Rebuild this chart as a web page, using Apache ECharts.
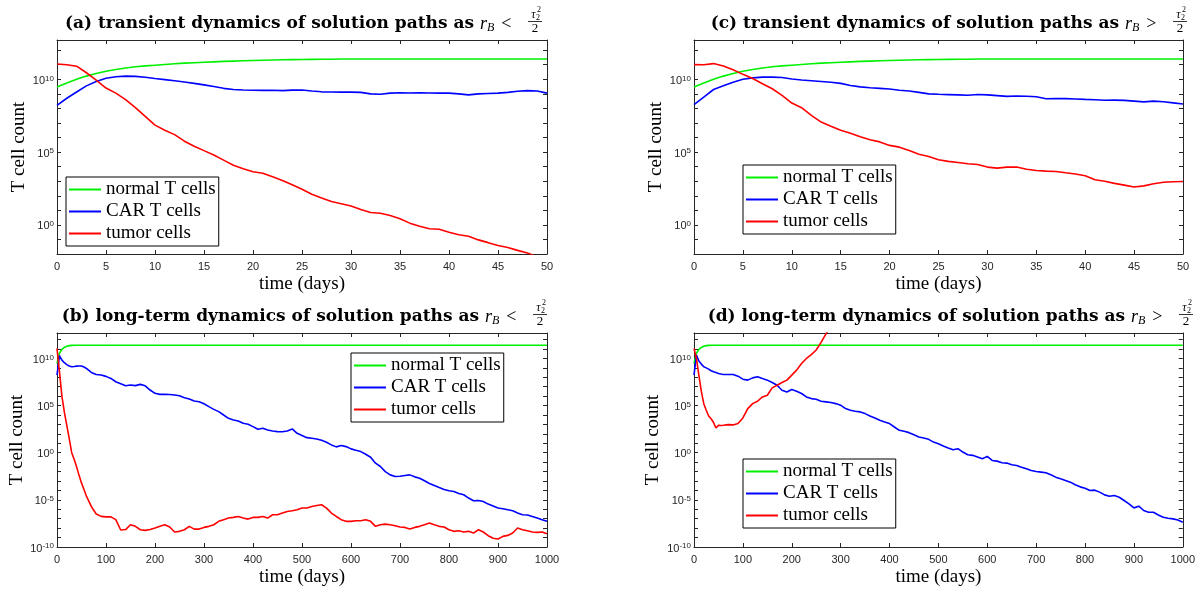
<!DOCTYPE html>
<html>
<head>
<meta charset="utf-8">
<title>CAR T-cell solution paths</title>
<script src="https://cdn.jsdelivr.net/npm/echarts@6/dist/echarts.min.js"></script>
<style>
  html, body { margin: 0; padding: 0; background: #fff; }
  #chart { width: 1198px; height: 592px; }
</style>
</head>
<body>
<div id="chart"></div>
<script>
// All cell counts are stored as log10 values; the y axes are in decades.

// ---- short horizon (days 0..50, panels a and c) ----
const daysShort = [0,1,2,3,4,5,6,7,8,9,10,11,12,13,14,15,16,17,18,19,20,21,22,23,24,25,
  26,27,28,29,30,31,32,33,34,35,36,37,38,39,40,41,42,43,44,45,46,47,48,49,50];

const normalShort = [9.47,9.75,10.0,10.22,10.4,10.55,10.67,10.78,10.86,10.92,10.97,11.02,11.07,11.11,11.14,11.17,
  11.2,11.23,11.25,11.27,11.29,11.31,11.33,11.34,11.35,11.36,11.37,11.38,11.38,11.39,11.39,11.39,11.4,11.4,11.4,
  11.4,11.4,11.4,11.4,11.4,11.4,11.4,11.4,11.4,11.4,11.4,11.4,11.4,11.4,11.4,11.4];

const carA = [8.21,8.7,9.13,9.55,9.85,10.07,10.18,10.22,10.2,10.14,10.05,9.98,9.9,9.82,9.72,9.62,9.5,9.38,9.3,9.27,
  9.25,9.24,9.25,9.22,9.26,9.27,9.2,9.14,9.13,9.12,9.12,9.1,9.0,8.97,9.05,9.08,9.06,9.07,9.06,9.05,
  9.05,9.0,8.93,9.0,9.03,9.05,9.1,9.18,9.22,9.2,9.05];

const tumorA = [11.05,11.0,10.9,10.45,9.95,9.4,9.05,8.6,8.05,7.45,6.85,6.5,6.2,5.75,5.4,5.1,4.8,4.45,4.1,3.85,
  3.65,3.55,3.3,3.05,2.75,2.45,2.1,1.85,1.6,1.45,1.3,1.05,0.85,0.8,0.65,0.42,0.12,-0.1,-0.27,-0.3,
  -0.5,-0.68,-0.78,-1.03,-1.22,-1.42,-1.55,-1.75,-1.93,-2.2,-2.4];

const carC = [8.26,8.78,9.3,9.55,9.8,10.0,10.1,10.15,10.15,10.12,10.02,9.95,9.9,9.85,9.8,9.72,9.58,9.48,9.42,9.38,
  9.33,9.25,9.2,9.1,9.0,8.97,8.95,8.93,8.9,8.96,8.93,8.88,8.83,8.85,8.84,8.8,8.66,8.68,8.67,8.65,
  8.62,8.6,8.56,8.57,8.55,8.5,8.45,8.5,8.46,8.38,8.3];

const tumorC = [11.01,11.0,11.08,10.92,10.65,10.34,10.05,9.7,9.35,8.9,8.37,8.05,7.52,7.06,6.77,6.5,6.3,6.05,5.85,5.7,
  5.46,5.34,5.11,4.85,4.7,4.47,4.36,4.28,4.2,4.15,3.97,3.9,3.97,3.97,3.82,3.74,3.69,3.67,3.58,3.5,
  3.38,3.1,3.0,2.85,2.73,2.6,2.68,2.82,2.93,2.96,2.98];

// ---- long horizon (days 0..1000, panels b and d) ----
const daysLong = [0,5,10,15,20,25,30,35,40,45,50,55,60,
  70,80,90,100,110,120,130,140,150,160,
  170,180,190,200,210,220,230,240,250,260,
  270,280,290,300,310,320,330,340,350,360,
  370,380,390,400,410,420,430,440,450,460,
  470,480,490,500,510,520,530,540,550,560,
  570,580,590,600,610,620,630,640,650,660,
  670,680,690,700,710,720,730,740,750,760,
  770,780,790,800,810,820,830,840,850,860,
  870,880,890,900,910,920,930,940,950,960,
  970,980,990,1000];

const daysNormalLong = [0,5,10,15,20,25,30,40,60,1000];
const normalLong = [9.47,10.55,10.97,11.17,11.29,11.36,11.39,11.4,11.4,11.4];

const carB = [8.24,10.3,9.82,9.55,9.35,9.2,9.12,9.15,9.19,9.2,9.2,9.1,8.94,
  8.52,8.3,8.24,8.1,7.88,7.53,7.32,7.1,7.18,7.12,
  7.25,7.1,6.65,6.3,6.19,6.2,6.18,6.12,6.05,5.84,
  5.7,5.49,5.41,5.2,4.89,4.6,4.36,4.0,3.65,3.47,
  3.37,3.12,3.02,2.77,2.49,2.6,2.42,2.31,2.24,2.22,
  2.31,2.52,2.06,1.82,1.6,1.53,1.46,1.32,1.11,0.83,
  0.62,0.76,0.65,0.41,0.26,0.12,-0.16,-0.48,-1.11,-1.46,
  -2.0,-2.35,-2.52,-2.5,-2.42,-2.35,-2.56,-2.7,-2.98,-3.26,
  -3.47,-3.69,-3.9,-4.04,-4.11,-4.32,-4.46,-4.81,-5.1,-5.06,
  -5.17,-5.45,-5.66,-5.87,-5.94,-6.05,-6.16,-6.4,-6.58,-6.6,
  -6.76,-6.93,-7.1,-7.28];

const tumorB = [11.06,8.6,6.0,4.3,2.9,1.5,0.0,-0.7,-1.5,-2.4,-3.2,-3.9,-4.6,
  -5.7,-6.5,-6.75,-6.8,-6.8,-7.1,-8.2,-8.15,-7.64,-7.81,
  -8.17,-8.24,-8.15,-7.99,-7.81,-7.64,-7.88,-8.41,-8.34,-8.17,
  -7.81,-8.1,-8.1,-7.92,-7.81,-7.64,-7.28,-7.1,-6.93,-6.86,
  -6.76,-6.93,-7.04,-6.86,-6.86,-6.76,-6.93,-6.58,-6.58,-6.4,
  -6.23,-6.16,-6.05,-5.87,-5.87,-5.7,-5.59,-5.52,-5.87,-6.4,
  -6.76,-7.1,-7.28,-7.28,-7.21,-7.21,-7.1,-7.28,-7.81,-7.64,
  -7.57,-7.64,-7.74,-7.88,-7.92,-8.1,-7.92,-7.81,-7.64,-7.46,
  -7.64,-7.81,-7.88,-8.17,-8.34,-8.27,-8.41,-8.34,-8.52,-8.17,
  -8.41,-8.8,-9.08,-9.15,-8.87,-8.77,-8.52,-7.99,-8.17,-8.27,
  -8.41,-8.45,-8.41,-8.59];

const carD = [8.23,10.35,9.72,9.4,9.12,9.0,8.87,8.7,8.58,8.5,8.41,8.35,8.3,
  8.3,8.3,8.12,7.8,7.7,7.94,8.05,7.87,7.7,7.45,
  7.16,6.63,6.45,6.7,6.52,6.28,5.92,5.74,5.67,5.46,
  5.39,5.32,5.21,5.04,4.68,4.5,4.4,4.33,4.15,3.9,
  3.69,3.44,3.26,3.09,2.73,2.38,2.27,2.13,1.91,1.67,
  1.56,1.42,1.13,0.96,0.71,0.5,0.32,0.43,0.07,-0.21,
  -0.28,-0.46,-0.64,-0.39,-0.82,-0.89,-1.06,-1.1,-1.28,-1.35,
  -1.53,-1.7,-1.88,-1.99,-2.06,-2.13,-2.34,-2.59,-2.77,-2.94,
  -3.12,-3.4,-3.62,-3.76,-4.0,-3.97,-4.18,-4.47,-4.61,-4.54,
  -4.72,-5.07,-5.43,-5.85,-5.67,-6.13,-6.31,-6.31,-6.6,-6.84,
  -6.95,-7.02,-7.13,-7.38];

// tumour burden escapes above the plotted range after ~day 270
const tumorD = [11.06,10.0,8.2,6.5,5.2,4.5,3.9,3.6,3.2,2.62,2.9,2.88,2.91,
  2.98,2.95,3.09,3.69,4.68,5.21,5.46,5.92,6.1,6.88,
  7.16,7.45,7.7,8.23,8.76,9.47,10.0,10.4,10.9,11.7,
  12.6,13.4];

const seriesNames = ['normal T cells', 'CAR T cells', 'tumor cells'];
const seriesColors = ['#00f000', '#0000ff', '#ff0000'];

// panel layout: a (top-left), b (bottom-left), c (top-right), d (bottom-right)
const panels = [
  { grid: { left: 57, top: 40, width: 490, height: 214 }, xMax: 50, xStep: 5, yMin: -2, yNameGap: 27,
    lines: [[daysShort, normalShort], [daysShort, carA], [daysShort, tumorA]],
    legend: { left: 66, top: 177 },
    title: { prefix: '(a) transient dynamics of solution paths as', asEnd: 474, yc: 24, op: '<' } },
  { grid: { left: 57, top: 333, width: 490, height: 214 }, xMax: 1000, xStep: 100, yMin: -10, yNameGap: 30,
    lines: [[daysNormalLong, normalLong], [daysLong, carB], [daysLong, tumorB]],
    legend: { left: 351, top: 353 },
    title: { prefix: '(b) long-term dynamics of solution paths as', asEnd: 479, yc: 317, op: '<' } },
  { grid: { left: 694, top: 40, width: 489, height: 214 }, xMax: 50, xStep: 5, yMin: -2, yNameGap: 28,
    lines: [[daysShort, normalShort], [daysShort, carC], [daysShort, tumorC]],
    legend: { left: 743, top: 165 },
    title: { prefix: '(c) transient dynamics of solution paths as', asEnd: 1119, yc: 24, op: '>' } },
  { grid: { left: 694, top: 333, width: 489, height: 214 }, xMax: 1000, xStep: 100, yMin: -10, yNameGap: 31,
    lines: [[daysNormalLong, normalLong], [daysLong, carD], [daysLong, tumorD]],
    legend: { left: 743, top: 459 },
    title: { prefix: '(d) long-term dynamics of solution paths as', asEnd: 1125, yc: 317, op: '>' } }
];

const Y_MAX = 12.7;   // top of every y axis, in decades
const axisColor = '#262626';
const serif = 'Liberation Serif';
const sans = 'Liberation Sans';

function decadeLabel(v) {
  const n = Math.round(v);
  if (Math.abs(v - n) > 1e-6 || n % 5 !== 0) return '';
  return '{b|10}{s|' + (n < 0 ? '-' + (-n) : n) + '}';
}

const grid = [], xAxis = [], yAxis = [], series = [], legend = [], graphic = [];

panels.forEach(function (p, i) {
  grid.push(Object.assign({ containLabel: false }, p.grid));

  const xCommon = {
    type: 'value', gridIndex: i, min: 0, max: p.xMax, interval: p.xStep,
    axisLine: { show: true, onZero: false, lineStyle: { color: axisColor, width: 1 } },
    axisTick: { show: true, inside: true, length: 4, lineStyle: { color: axisColor } },
    splitLine: { show: false }
  };
  xAxis.push(Object.assign({}, xCommon, {
    position: 'bottom',
    axisLabel: { color: axisColor, fontFamily: sans, fontSize: 11, margin: 7,
      formatter: function (v) { return String(v); } },
    name: 'time (days)', nameLocation: 'middle', nameGap: 21,
    nameTextStyle: { fontFamily: serif, fontSize: 19, color: '#000' }
  }));
  xAxis.push(Object.assign({}, xCommon, { position: 'top', axisLabel: { show: false } }));

  const yCommon = {
    type: 'value', gridIndex: i, min: p.yMin, max: Y_MAX, interval: 1,
    axisLine: { show: true, onZero: false, lineStyle: { color: axisColor, width: 1 } },
    axisTick: { show: true, inside: true, length: 4, lineStyle: { color: axisColor } },
    splitLine: { show: false }
  };
  yAxis.push(Object.assign({}, yCommon, {
    position: 'left',
    axisLabel: {
      formatter: decadeLabel, margin: 3, color: axisColor,
      rich: {
        b: { fontFamily: sans, fontSize: 11, color: axisColor, padding: [3, 0, 0, 0] },
        s: { fontFamily: sans, fontSize: 8, color: axisColor, padding: [0, 0, 2, 0] }
      }
    },
    name: 'T cell count', nameLocation: 'middle', nameGap: p.yNameGap,
    nameTextStyle: { fontFamily: serif, fontSize: 19, color: '#000' }
  }));
  yAxis.push(Object.assign({}, yCommon, { position: 'right', axisLabel: { show: false } }));

  p.lines.forEach(function (pair, k) {
    const days = pair[0], vals = pair[1];
    series.push({
      name: seriesNames[k], type: 'line', xAxisIndex: 2 * i, yAxisIndex: 2 * i,
      data: vals.map(function (v, j) { return [days[j], v]; }),
      symbol: 'none', showSymbol: false, clip: true,
      lineStyle: { color: seriesColors[k], width: 1.6 },
      itemStyle: { color: seriesColors[k] },
      z: 2 + k
    });
  });

  // boxed legend, one thin bar per series
  legend.push({
    left: p.legend.left, top: p.legend.top, orient: 'vertical',
    data: seriesNames, selectedMode: false,
    icon: 'rect', itemWidth: 32, itemHeight: 2, itemGap: 3,
    padding: [3, 3, 3, 3],
    borderColor: '#000', borderWidth: 1, backgroundColor: '#fff',
    textStyle: { fontFamily: serif, fontSize: 19, lineHeight: 19, color: '#000' }
  });

  // title: bold prose, then the inline math r_B < tau_2^2 / 2
  const t = p.title, yc = t.yc, fx = t.asEnd + 61;
  graphic.push({
    type: 'text', x: t.asEnd, y: yc, silent: true,
    style: { text: t.prefix, fontFamily: 'DejaVu Serif', fontWeight: 'bold', fontSize: 17,
      fill: '#000', align: 'right', verticalAlign: 'middle', textAlign: 'right', textVerticalAlign: 'middle' }
  });
  graphic.push({
    type: 'text', x: t.asEnd + 6, y: yc, silent: true,
    style: {
      text: '{r|r}{b|B}{o|' + t.op + '}', fill: '#000',
      align: 'left', verticalAlign: 'middle', textAlign: 'left', textVerticalAlign: 'middle',
      rich: {
        r: { fontFamily: serif, fontStyle: 'italic', fontSize: 18, fill: '#000' },
        b: { fontFamily: serif, fontStyle: 'italic', fontSize: 12, padding: [8, 0, 0, 0], fill: '#000' },
        o: { fontFamily: serif, fontSize: 18, padding: [0, 0, 0, 7], fill: '#000' }
      }
    }
  });
  graphic.push({
    type: 'line', silent: true,
    shape: { x1: fx - 7, y1: yc - 2.5, x2: fx + 7, y2: yc - 2.5 },
    style: { stroke: '#000', lineWidth: 0.8 }
  });
  graphic.push({
    type: 'text', x: fx - 1.5, y: yc - 9, silent: true,
    style: { text: '\u03c4', fontFamily: serif, fontStyle: 'italic', fontSize: 12, fill: '#000',
      align: 'center', verticalAlign: 'middle', textAlign: 'center', textVerticalAlign: 'middle' }
  });
  graphic.push({
    type: 'text', x: fx + 4, y: yc - 14, silent: true,
    style: { text: '2', fontFamily: serif, fontSize: 8, fill: '#000',
      align: 'center', verticalAlign: 'middle', textAlign: 'center', textVerticalAlign: 'middle' }
  });
  graphic.push({
    type: 'text', x: fx + 3, y: yc - 6, silent: true,
    style: { text: '2', fontFamily: serif, fontSize: 8, fill: '#000',
      align: 'center', verticalAlign: 'middle', textAlign: 'center', textVerticalAlign: 'middle' }
  });
  graphic.push({
    type: 'text', x: fx, y: yc + 5, silent: true,
    style: { text: '2', fontFamily: serif, fontSize: 13, fill: '#000',
      align: 'center', verticalAlign: 'middle', textAlign: 'center', textVerticalAlign: 'middle' }
  });
});

const chart = echarts.init(document.getElementById('chart'), null, { renderer: 'canvas' });
chart.setOption({
  backgroundColor: '#fff',
  animation: false,
  grid: grid,
  xAxis: xAxis,
  yAxis: yAxis,
  legend: legend,
  series: series,
  graphic: graphic
});
</script>
</body>
</html>
